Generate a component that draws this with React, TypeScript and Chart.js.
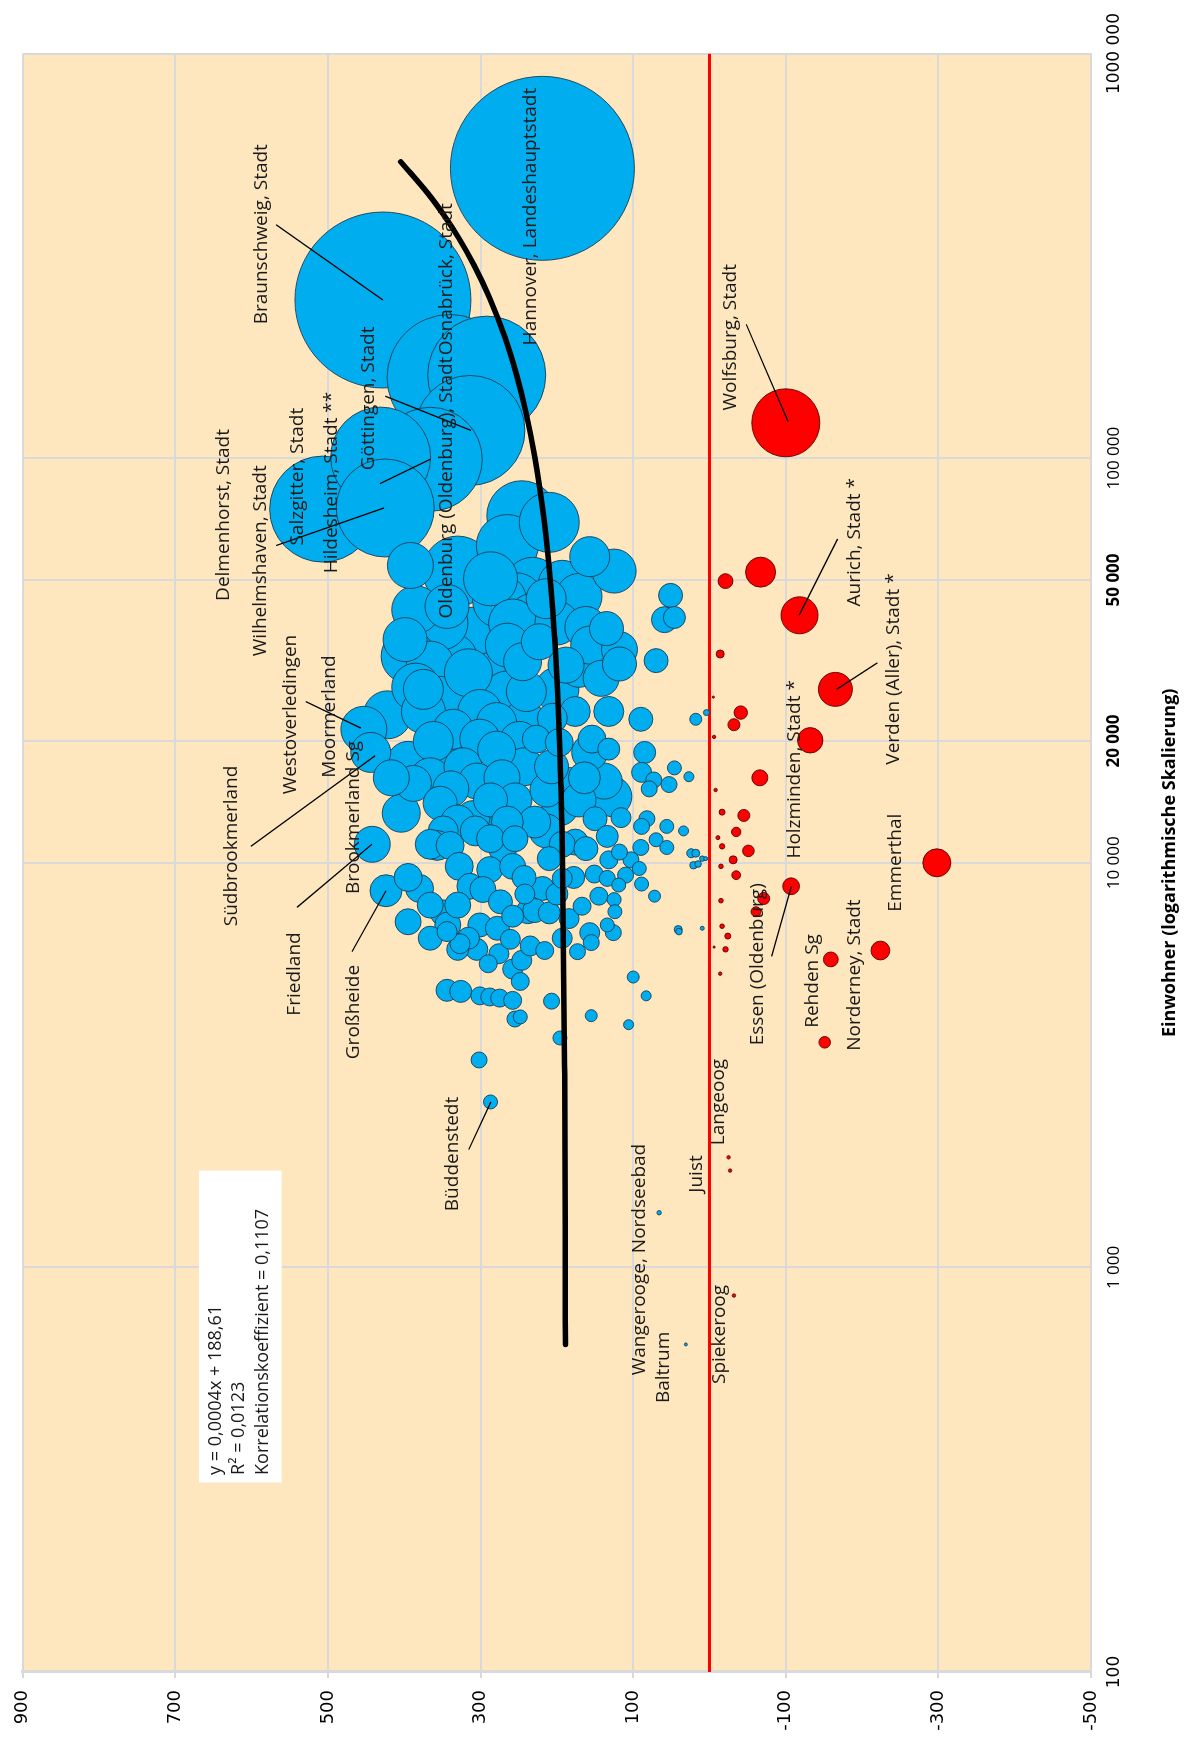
import React, { useEffect, useRef } from "react";
import { Chart, registerables } from "chart.js";

Chart.register(...registerables);

// ---------- axis ticks ----------
const popTicks = [100, 1000, 10000, 20000, 50000, 100000, 1000000];
const popTickLabels = ["100", "1 000", "10 000", "20 000", "50 000", "100 000", "1000 000"];
const popTicksBold = [20000, 50000];
const popTicksAxisFont = [100, 1000000];
const valueMin = -500;
const valueMax = 900;
const valueStep = 200;

// ---------- positive balance (blue) ----------
const bluePop = [
  520400, 246000, 160400, 158300, 117100, 99370, 100630, 75320, 74850, 72070,
  69410, 60820, 52600, 54300, 48500, 44670, 40390, 36520, 31600, 28750,
  30800, 26830, 23210, 21380, 31400, 26500, 22210, 21380, 52600, 45520,
  38160, 34510, 33650, 31000, 45810, 39890, 40390, 31600, 23660, 22630,
  22630, 23510, 44950, 35180, 30800, 23660, 22770, 44390, 34510, 39140,
  39140, 50340, 43010,
  17710, 13260, 11110, 8530, 18980, 15920, 15230, 14030, 13600, 12930,
  14300, 11990, 11040, 11990, 10840, 11470, 11040, 9800, 9620, 9800,
  8750, 8590, 8010, 8370, 7570, 7520, 7020, 7020, 6890, 18740,
  19950, 20210, 19950,
  18740, 16730, 16020, 15230, 15610, 17160, 16320, 14580, 15920, 18740,
  15610, 15130, 12850, 12930, 11620, 12850, 12300, 12300, 11990, 11400,
  10910, 10910, 10560, 10240, 9860, 10170, 10630, 10170, 9680, 9320,
  8860, 9380, 9150, 8810, 8270, 8270, 8110, 7570, 7810, 7020,
  6840, 6890, 13690, 11990, 11250, 10240, 10840, 9150, 8640, 7280,
  7520, 20210, 19830, 20210, 19100, 10560, 9930, 10240,
  4840, 4810, 4690, 4660, 4630, 4570, 4160, 4110, 3256, 2564,
  6110, 5960, 5460, 5090, 5630, 5740, 6310, 6760, 6470, 6230,
  6070, 6030, 6350, 6720, 5220, 4690, 4550, 4190, 3980, 3690,
  6760, 1365, 645,
  42210, 35610, 32400, 27170, 23660, 25190, 23660, 26000, 26830, 28570,
  30420, 16220, 17270, 16220, 12610, 14300, 12610, 11470, 15710, 8640,
  7860, 7860, 9200, 8370, 9200, 7380, 6510, 6510, 7150, 14300,
  17270, 18980, 16220, 12610, 17270, 16220, 11110, 7620, 6720, 6110,
  6510, 11110, 9200, 22210, 29480, 39140, 48780, 57100, 37920,
];
const blueValue = [
  219, 428, 292, 340, 314, 366, 431, 425, 507, 246,
  210, 265, 330, 392, 232, 253, 232, 310, 340, 294,
  366, 375, 422, 453, 245, 240, 279, 336, 125, 171,
  162, 157, 118, 118, 51, 59, 46, 70, 132, 90,
  18, 4, 214, 223, 188, 176, 206, 275, 265, 200,
  352, 287, 344,
  395, 404, 442, 424, 339, 305, 339, 353, 281, 310,
  255, 349, 340, 307, 271, 255, 357, 328, 288, 258,
  314, 297, 274, 242, 238, 349, 343, 301, 278, 444,
  362, 301, 249,
  85, 89, 73, 79, 53, 46, 27, 128, 138, 157,
  184, 213, 150, 116, 134, 82, 89, 56, 34, 70,
  56, 90, 24, 9.5, 21, 103, 118, 132, 92, 110,
  89, 151, 134, 119, 72, 145, 125, 124, 167, 134,
  41, 9.5, 196, 214, 176, 210, 162, 193, 219, 184,
  210, 227, 197, 154, 132, 18, 15, 5,
  344, 326, 301, 288, 275, 258, 248, 255, 302, 287,
  305, 276, 258, 248, 290, 246, 327, 344, 261, 235,
  216, 173, 155, 126, 100, 83, 207, 155, 106, 196,
  40, 66, 31,
  385, 399, 395, 385, 375, 352, 301, 265, 200, 142,
  171, 366, 243, 272, 229, 171, 330, 287, 388, 380,
  366, 330, 243, 200, 178, 258, 316, 366, 395, 287,
  323, 279, 417, 265, 207, 164, 193, 229, 157, 330,
  193, 366, 395, 243, 316, 258, 193, 157, 135,
];
const blueSize = [
  92, 88, 59, 63, 55, 52, 50, 49, 53, 35,
  30, 31, 35, 23, 28, 27, 24, 28, 28, 24,
  24, 20, 24, 23, 19, 20, 20, 20, 22, 23,
  21, 19, 18, 17, 12, 13, 11, 12, 15, 12,
  6, 3, 20, 18, 18, 15, 15, 27, 22, 22,
  27, 27, 22,
  21, 19, 18, 16, 22, 18, 18, 17, 17, 17,
  17, 15, 14, 15, 14, 13, 15, 14, 13, 13,
  13, 13, 12, 10, 12, 13, 13, 12, 12, 20,
  20, 20, 20,
  11, 10, 8, 8, 8, 7, 5, 20, 18, 18,
  17, 17, 12, 10, 11, 8, 8, 7, 5, 7,
  7, 8, 4.5, 2.7, 3.7, 8, 8, 9, 7, 8,
  7, 9, 8, 7, 6, 9, 7, 7, 9, 7,
  4, 2, 18, 17, 13, 12, 12, 10, 12, 10,
  11, 14, 14, 14, 11, 4, 3.3, 2,
  11, 11, 9, 9, 9, 9, 7, 8, 8, 7,
  11, 10, 10, 9, 9, 10, 10, 10, 10, 10,
  9, 8, 8, 8, 6, 5, 8, 6, 5, 7,
  3.3, 2.2, 1.5,
  24, 22, 27, 24, 22, 24, 22, 24, 22, 18,
  20, 20, 19, 18, 16, 17, 17, 14, 18, 14,
  13, 13, 12, 11, 11, 11, 11, 12, 13, 17,
  19, 19, 18, 16, 17, 16, 13, 12, 10, 11,
  10, 15, 14, 22, 24, 24, 24, 20, 17,
];

// ---------- negative balance (red) ----------
const redPop = [
  122300, 52280, 49680, 40900, 32810, 26830, 23510, 21940, 20080, 16220,
  15130, 13340, 13090, 11920, 11540, 10980, 10700, 10170, 9800, 9320,
  10000, 8750, 8160, 7570, 8060, 6970, 6590, 6190, 6110, 5320,
  6070, 5770, 3600, 20470, 25670, 1871, 1735, 852,
];
const redValue = [
  -100, -67, -21, -118, -14, -165, -41, -32, -132, -66,
  -8, -16.5, -45, -35, -11, -16.5, -51, -31, -15, -35,
  -298, -107, -71, -61, -15, -16.5, -24, -6, -21, -14,
  -224, -159, -151, -6, -5, -25, -27, -32,
];
const redSize = [
  34, 15, 7.4, 18.5, 4, 17, 6.7, 6, 12.7, 8,
  1.7, 3, 6, 4.7, 2, 2.7, 5.8, 4, 2.3, 4.4,
  14, 8.4, 6, 5, 2.3, 2.3, 3, 1.1, 2.7, 1.7,
  9.4, 7.4, 5.8, 1.7, 1.1, 1.7, 1.7, 1.7,
];

// ---------- linear trend y = 0,0004x + 188,61 ----------
const trendPop = [645, 1000, 3000, 10000, 20000, 35000, 50000, 70000, 100000, 130000, 160000, 200000, 250000, 300000, 350000, 400000, 450000, 540000];
const trendValue = [188.87, 189.01, 189.81, 192.61, 196.61, 202.61, 208.61, 216.61, 228.61, 240.61, 252.61, 268.61, 288.61, 308.61, 328.61, 348.61, 368.61, 404.61];

const equationLines = ["y = 0,0004x + 188,61", "R² = 0,0123", "Korrelationskoeffizient = 0,1107"];
const axisTitle = "Einwohner (logarithmische Skalierung)";

// ---------- annotations (text start anchor in data units) ----------
const labelTexts = [
  "Hannover, Landeshauptstadt", "Braunschweig, Stadt", "Oldenburg (Oldenburg), Stadt", "Osnabrück, Stadt",
  "Göttingen, Stadt", "Hildesheim, Stadt **", "Salzgitter, Stadt", "Wilhelmshaven, Stadt", "Delmenhorst, Stadt",
  "Wolfsburg, Stadt", "Aurich, Stadt *", "Verden (Aller), Stadt *", "Holzminden, Stadt *", "Essen (Oldenburg)",
  "Rehden Sg", "Norderney, Stadt", "Emmerthal", "Großheide", "Friedland", "Brookmerland Sg", "Südbrookmerland",
  "Westoverledingen", "Moormerland", "Büddenstedt", "Langeoog", "Juist", "Wangerooge, Nordseebad", "Baltrum", "Spiekeroog",
];
const labelAnchorPop = [
  190000, 214200, 40140, 179600, 93300, 51950, 60820, 32400, 44390,
  131100, 43010, 17480, 10240, 3540, 3910, 3430, 7570, 3270, 4190, 8370, 6970,
  14760, 16220, 1377, 2005, 1530, 541, 462, 515,
];
const labelAnchorValue = [
  234.6, 586.8, 344.3, 344.3, 446.8, 495.9, 539.2, 588.2, 637.3,
  -28, -189.7, -241.6, -111.8, -62.7, -134.8, -189.7, -244.5, 467, 543.5, 467, 625.8,
  549.3, 497.3, 337.1, -12.2, 16.7, 91.7, 60, -13.6,
];
// leader lines: [pop1, value1, pop2, value2]
const leaderLines = [
  [377500, 568, 246000, 428],
  [142300, 425.1, 117100, 312.6],
  [86520, 431.9, 99370, 366],
  [60820, 568, 75320, 426.6],
  [214200, -48.2, 123100, -103.1],
  [63150, -168, 40900, -117.5],
  [31200, -220, 26830, -166.6],
  [5870, -81.4, 8750, -107.4],
  [6030, 468.5, 8530, 424],
  [7760, 540.6, 11110, 442.5],
  [10980, 601.2, 18390, 438.1],
  [1955, 315.5, 2564, 286.6],
  [25030, 529.1, 21520, 456.9],
];
// equation box placement in data units
const boxPop = [294, 1735];
const boxValue = [669.1, 560.8];
const boxTextPop = 307;
const boxTextValue = [647.4, 617.1, 585.4];

const PLOT_BG = "#FEE7BF";
const GRID = "#D9D9D9";
const BLUE = "#00AEEF";
const RED = "#FF0000";
const LABEL_FONT = '19px "Open Sans"';

const W = 1738;
const H = 1195;

function sortedBubbles(pop: number[], val: number[], size: number[]) {
  const idx = pop.map((_, i) => i);
  idx.sort((a, b) => size[b] - size[a]);
  return idx.map((i) => ({ x: pop[i], y: val[i], r: size[i] }));
}

const decorPlugin = {
  id: "decor",
  beforeDraw(chart: any) {
    const { ctx, chartArea: a } = chart;
    ctx.save();
    ctx.fillStyle = PLOT_BG;
    ctx.fillRect(a.left, a.top, a.right - a.left, a.bottom - a.top);
    ctx.restore();
  },
  afterDatasetsDraw(chart: any) {
    const { ctx } = chart;
    const xs = chart.scales.x;
    const ys = chart.scales.y;
    ctx.save();
    ctx.strokeStyle = "#000";
    ctx.lineWidth = 1.3;
    for (const l of leaderLines) {
      ctx.beginPath();
      ctx.moveTo(xs.getPixelForValue(l[0]), ys.getPixelForValue(l[1]));
      ctx.lineTo(xs.getPixelForValue(l[2]), ys.getPixelForValue(l[3]));
      ctx.stroke();
    }
    ctx.font = LABEL_FONT;
    ctx.fillStyle = "#1a1a1a";
    ctx.textAlign = "left";
    ctx.textBaseline = "middle";
    labelTexts.forEach((t, i) => {
      ctx.fillText(t, xs.getPixelForValue(labelAnchorPop[i]), ys.getPixelForValue(labelAnchorValue[i]));
    });
    // equation box
    const bx1 = xs.getPixelForValue(boxPop[0]);
    const bx2 = xs.getPixelForValue(boxPop[1]);
    const by1 = ys.getPixelForValue(boxValue[0]);
    const by2 = ys.getPixelForValue(boxValue[1]);
    ctx.fillStyle = "#FFFFFF";
    ctx.fillRect(bx1, by1, bx2 - bx1, by2 - by1);
    ctx.fillStyle = "#1a1a1a";
    ctx.font = '18px "Open Sans"';
    equationLines.forEach((t, i) => {
      ctx.fillText(t, xs.getPixelForValue(boxTextPop), ys.getPixelForValue(boxTextValue[i]));
    });
    ctx.restore();
  },
};

export default function App() {
  const ref = useRef<HTMLCanvasElement>(null);
  useEffect(() => {
    const canvas = ref.current;
    if (!canvas) return;
    const chart = new Chart(canvas, {
      type: "bubble",
      data: {
        datasets: [
          {
            type: "line",
            data: trendPop.map((p, i) => ({ x: p, y: trendValue[i] })),
            borderColor: "#000",
            borderWidth: 5.5,
            borderCapStyle: "round",
            pointRadius: 0,
            cubicInterpolationMode: "monotone",
            order: 0,
          } as any,
          {
            type: "bubble",
            data: sortedBubbles(bluePop, blueValue, blueSize),
            backgroundColor: BLUE,
            borderColor: "#1B3B52",
            borderWidth: 0.9,
            order: 1,
          } as any,
          {
            type: "bubble",
            data: sortedBubbles(redPop, redValue, redSize),
            backgroundColor: RED,
            borderColor: "#5A0000",
            borderWidth: 0.9,
            order: 2,
          } as any,
          {
            type: "line",
            data: [
              { x: popTicks[0], y: 0 },
              { x: popTicks[popTicks.length - 1], y: 0 },
            ],
            borderColor: RED,
            borderWidth: 2.8,
            pointRadius: 0,
            order: 3,
          } as any,
        ],
      },
      options: {
        animation: false,
        responsive: false,
        maintainAspectRatio: false,
        devicePixelRatio: 1,
        events: [],
        layout: { autoPadding: false, padding: { top: 15, right: 50, left: 0, bottom: 0 } },
        plugins: {
          legend: { display: false },
          tooltip: { enabled: false },
        },
        scales: {
          x: {
            type: "logarithmic",
            position: "bottom",
            min: popTicks[0],
            max: popTicks[popTicks.length - 1],
            afterBuildTicks: (axis: any) => {
              axis.ticks = popTicks.map((v) => ({ value: v }));
            },
            afterFit: (s: any) => {
              s.height = 104;
            },
            ticks: {
              autoSkip: false,
              maxRotation: 0,
              minRotation: 0,
              padding: 13,
              color: "#000",
              callback: (v: any) => {
                const i = popTicks.findIndex((t) => Math.abs(t - v) < 1e-6 * t);
                return i >= 0 ? popTickLabels[i] : "";
              },
              font: (c: any) => {
                const v = c.tick ? c.tick.value : 0;
                if (popTicksAxisFont.some((t) => Math.abs(t - v) < 1e-6 * t)) return { family: "DejaVu Sans", size: 17 };
                if (popTicksBold.some((t) => Math.abs(t - v) < 1e-6 * t)) return { family: "Open Sans", size: 17, weight: "bold" };
                return { family: "Open Sans", size: 17 };
              },
            },
            grid: { color: GRID, lineWidth: 2, drawTicks: false },
            border: { display: true, color: GRID, width: 2 },
            title: {
              display: true,
              text: axisTitle,
              color: "#000",
              font: { family: "Open Sans", size: 18, weight: "bold" },
              padding: { top: 0, bottom: 14 },
            },
          },
          y: {
            type: "linear",
            min: valueMin,
            max: valueMax,
            afterFit: (s: any) => {
              s.width = 66;
            },
            ticks: {
              stepSize: valueStep,
              padding: 12,
              color: "#000",
              font: { family: "DejaVu Sans", size: 18 },
            },
            grid: { color: GRID, lineWidth: 2, tickLength: 6 },
            border: { display: true, color: GRID, width: 3 },
          },
        },
      },
      plugins: [decorPlugin],
    } as any);
    return () => chart.destroy();
  }, []);

  return (
    <div style={{ position: "fixed", left: 0, top: 0, width: 1195, height: 1738, overflow: "hidden", background: "#fff" }}>
      <div
        style={{
          position: "absolute",
          left: 0,
          top: 0,
          width: W,
          height: H,
          transformOrigin: "0 0",
          transform: `translate(0px, ${W}px) rotate(-90deg)`,
        }}
      >
        <canvas ref={ref} width={W} height={H} style={{ display: "block" }} />
      </div>
    </div>
  );
}
